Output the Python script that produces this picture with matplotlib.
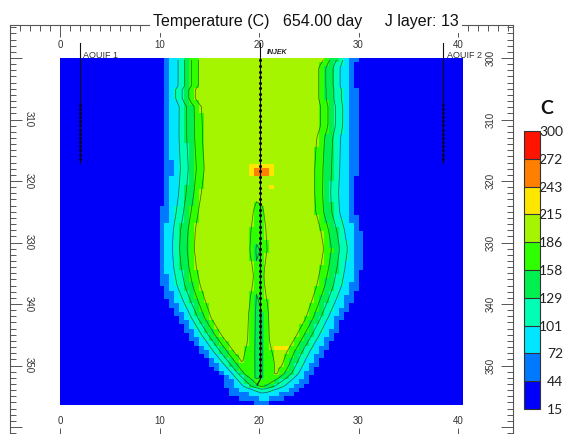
import numpy as np
import matplotlib
matplotlib.use('Agg')
import matplotlib.pyplot as plt
from matplotlib.colors import ListedColormap, BoundaryNorm
from matplotlib.ticker import MultipleLocator
import matplotlib.transforms as mtransforms
from matplotlib.cm import ScalarMappable

# ---------------- data ----------------
levels = [15, 44, 72, 101, 129, 158, 186, 215, 243, 272, 300]
colors = ['#0000FA', '#0078FF', '#00E6FF', '#00FFB4', '#00F050',
          '#30FF00', '#A6F500', '#FFE600', '#FF7F00', '#FF1400']

# grid extent
grid_x = [0.0, 40.5]
grid_d = [300.0, 356.4]
n_cols = 81
n_rows = 82

# plume outline (depth, left blue edge, left core edge, right core edge, right blue edge)
knot_d      = [300.0, 301.5, 304.5, 305.0, 307.0, 307.5, 311.0, 313.0, 318.0, 322.0, 325.0,
               328.0, 331.0, 334.0, 337.0, 339.5, 342.3, 345.0, 347.8, 350.0, 351.5, 353.5,
               355.0, 356.0]
left_outer  = [10.5, 10.5, 10.5, 10.3, 10.3, 10.5, 10.4, 10.4, 10.5, 10.4, 10.2,
               9.9, 9.8, 9.9, 10.2, 10.9, 11.9, 12.9, 14.1, 15.3, 16.2, 16.8,
               17.3, 19.5]
left_core   = [13.9, 13.9, 13.9, 13.6, 13.6, 14.2, 14.3, 14.3, 14.5, 14.2, 13.9,
               13.6, 13.5, 13.7, 14.1, 14.6, 15.2, 16.2, 17.5, 18.5, 19.2, 21.0,
               27.4, 26.6]
right_core  = [26.6, 26.0, 26.0, 26.0, 26.0, 26.2, 26.2, 25.8, 25.6, 25.6, 25.7,
               26.2, 26.5, 26.2, 25.8, 25.3, 24.7, 23.8, 22.8, 22.3, 21.8, 19.5,
               13.4, 14.0]
right_outer = [29.8, 29.6, 29.6, 29.8, 29.8, 29.9, 29.9, 29.8, 29.8, 29.6, 29.7,
               30.2, 30.5, 30.3, 30.0, 29.3, 28.4, 27.6, 26.6, 25.8, 25.3, 24.4,
               23.5, 21.1]
core_temp = 200.0
background_temp = 25.0

# cooler zone around the injector
inner_d    = [322.5, 324.7, 328.0, 331.2, 335.5, 341.5, 346.0, 349.5, 352.0, 353.5]
inner_hw   = [0.0, 0.5, 0.75, 0.85, 0.5, 1.0, 1.1, 1.6, 1.6, 0.0]
inner_tmin = [186, 170, 160, 145, 150, 145, 145, 150, 150, 186]
inner_x = 19.95

# hot cells (x0, x1, d0, d1, T)
hot_x0 = [19.2, 19.6, 20.9, 19.3, 21.3]
hot_x1 = [21.4, 20.8, 21.6, 19.6, 22.8]
hot_d0 = [317.0, 318.2, 320.4, 321.1, 346.6]
hot_d1 = [319.4, 319.4, 321.1, 322.2, 347.5]
hot_t  = [225, 255, 225, 220, 225]

# wells
inj_x = [20.15, 20.15, 20.15, 19.8]
inj_d = [297.6, 340.0, 352.2, 353.2]
inj_perf = [300.4, 352.0]
aq1_x = 2.0
aq2_x = 38.5
aq_top = 297.6
aq_bottom = 317.0
aq_perf = [307.6, 316.8]
perf_spacing = 0.9

x_tick_labels = [0, 10, 20, 30, 40]
left_y_labels = [310, 320, 330, 340, 350]
right_y_labels = [300, 310, 320, 330, 340, 350]

# ---------------- field ----------------
xe = np.linspace(grid_x[0], grid_x[1], n_cols + 1)
de = np.linspace(grid_d[0], grid_d[1], n_rows + 1)
xc = 0.5 * (xe[:-1] + xe[1:])
dc = 0.5 * (de[:-1] + de[1:])
X, D = np.meshgrid(xc, dc)

Lo = np.interp(dc, knot_d, left_outer)[:, None]
Lc = np.interp(dc, knot_d, left_core)[:, None]
Rc = np.interp(dc, knot_d, right_core)[:, None]
Ro = np.interp(dc, knot_d, right_outer)[:, None]
rampL = 44 + 142 * (X - Lo) / (Lc - Lo)
rampR = 44 + 142 * (Ro - X) / (Ro - Rc)
T = np.minimum(core_temp, np.minimum(rampL, rampR))

hw = np.interp(dc, inner_d, inner_hw, left=0, right=0)[:, None]
tm = np.interp(dc, inner_d, inner_tmin)[:, None]
with np.errstate(divide='ignore', invalid='ignore'):
    inner = np.where(hw > 0, tm + (186 - tm) * np.abs(X - inner_x) / np.where(hw > 0, hw, 1), np.inf)
T = np.minimum(T, inner)
T = np.where(T < 44, background_temp, T)
Tc = T.copy()
for x0, x1, d0, d1, t in zip(hot_x0, hot_x1, hot_d0, hot_d1, hot_t):
    m = (X >= x0) & (X <= x1) & (D >= d0) & (D <= d1)
    T[m] = t

# ---------------- figure ----------------
W, H = 566, 434
fig = plt.figure(figsize=(W / 100, H / 100), dpi=100)

def fx(px):
    return px / W

def fy(py):
    return 1 - py / H

def dpx(py):
    return 300 + (py - 58) / 6.15

ax_l, ax_r, ax_t, ax_b = 10, 513, 25, 440
ax = fig.add_axes([fx(ax_l), fy(ax_b), fx(ax_r) - fx(ax_l), fy(ax_t) - fy(ax_b)])
# data mapping: x 0 -> px 60, 9.95 px/unit ; depth 300 -> px 58, 6.15 px/unit
ax.set_xlim((ax_l - 60) / 9.95, (ax_r - 60) / 9.95)
ax.set_ylim(dpx(ax_b), dpx(ax_t))

cmap = ListedColormap(colors)
norm = BoundaryNorm(levels, cmap.N)
ax.pcolormesh(xe, de, T, cmap=cmap, norm=norm, shading='flat', antialiased=False,
              linewidth=0, zorder=2)
ax.contour(xc, dc, Tc, levels=[101, 129, 158, 186], colors='#1c3a10',
           linewidths=0.55, alpha=0.7, zorder=3)

# wells
lc = '#111111'
ax.plot(inj_x, inj_d, color=lc, lw=0.8, zorder=4)
inj_dots = np.arange(inj_perf[0], inj_perf[1] + 0.01, perf_spacing)
ax.plot(np.interp(inj_dots, inj_d, inj_x), inj_dots, 'o', color='black', ms=2.2,
        mew=0, zorder=5)
for wx in (aq1_x, aq2_x):
    ax.plot([wx, wx], [aq_top, aq_bottom], color=lc, lw=0.8, zorder=4)
    dots = np.arange(aq_perf[0], aq_perf[1] + 0.01, perf_spacing * 0.75)
    ax.plot(np.full(len(dots), wx), dots, 'o', color='black', ms=1.8, mew=0, zorder=5)
well_kw = dict(fontsize=6.5, color='#333333', ha='left', va='top',
               family='Liberation Sans', zorder=1)
ax.text(aq1_x + 0.35, dpx(51), 'AQUIF 1', **well_kw)
ax.text(aq2_x + 0.35, dpx(51), 'AQUIF 2', **well_kw)
ax.text(inj_x[0] + 0.6, dpx(48.5), 'INJEK', fontsize=5, color='#222222', ha='left',
        va='top', family='Liberation Sans', style='italic', weight='bold', zorder=1)

# ticks
ax.xaxis.set_major_locator(MultipleLocator(10))
ax.xaxis.set_minor_locator(MultipleLocator(1))
ax.yaxis.set_major_locator(MultipleLocator(10))
ax.yaxis.set_minor_locator(MultipleLocator(1))
ax.tick_params(which='both', direction='in', top=True, right=True, bottom=True, left=True,
               labelbottom=False, labelleft=False, color='#555555', width=0.7)
ax.tick_params(which='major', length=8.5)
ax.tick_params(which='minor', length=4.2)
for s in ax.spines.values():
    s.set_color('#555555')
    s.set_linewidth(0.8)

tf = mtransforms.blended_transform_factory(ax.transData, ax.transAxes)
tfy = mtransforms.blended_transform_factory(ax.transAxes, ax.transData)
lab_kw = dict(fontsize=7, color='#333333', family='Liberation Sans')
yt = (ax_b - 45.5) / (ax_b - ax_t)
yb = (ax_b - 421.5) / (ax_b - ax_t)
for v in x_tick_labels:
    ax.text(v, yt, str(v), transform=tf, ha='center', va='center', **lab_kw)
    ax.text(v, yb, str(v), transform=tf, ha='center', va='center', **lab_kw)
xl = (28.5 - ax_l) / (ax_r - ax_l)
xr = (491 - ax_l) / (ax_r - ax_l)
for v in left_y_labels:
    ax.text(xl, v, str(v), transform=tfy, ha='center', va='center', rotation=270, **lab_kw)
for v in right_y_labels:
    ax.text(xr, v, str(v), transform=tfy, ha='center', va='center', rotation=90, **lab_kw)

# title
fig.text(fx(306), fy(26), 'Temperature (C)   654.00 day     J layer: 13', ha='center',
         va='baseline', fontsize=11.5, family='Liberation Sans', color='#111111',
         bbox=dict(facecolor='white', edgecolor='none', pad=2.5))

# colorbar
cax = fig.add_axes([fx(524), fy(409), fx(540) - fx(524), fy(131) - fy(409)])
cb = fig.colorbar(ScalarMappable(norm=norm, cmap=cmap), cax=cax, ticks=levels,
                  drawedges=True, spacing='uniform')
cb.outline.set_color('#333333')
cb.outline.set_linewidth(0.8)
cb.dividers.set_color('#333333')
cb.dividers.set_linewidth(0.8)
cax.tick_params(length=0, pad=16.5)
cax.set_yticklabels([str(v) for v in levels])
for t in cax.get_yticklabels():
    t.set_ha('right')
    t.set_family('Lato')
    t.set_fontsize(10)
    t.set_color('#222222')
fig.text(fx(547), fy(109), 'C', ha='center', va='center', fontsize=14, weight='bold',
         family='Lato', color='#111111')

fig.savefig('out.png', dpi=100)
